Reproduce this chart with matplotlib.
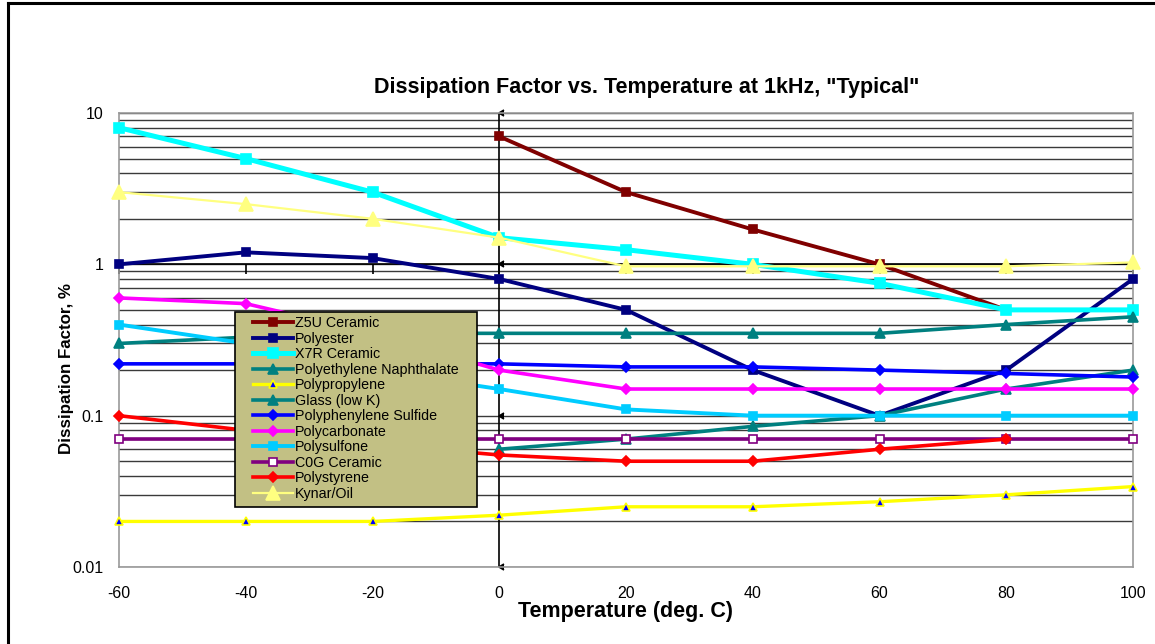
import matplotlib
matplotlib.use("Agg")
import matplotlib.pyplot as plt
import numpy as np
from matplotlib.lines import Line2D
from matplotlib.patches import Rectangle

plt.rcParams['font.family'] = ['Liberation Sans', 'DejaVu Sans']

temps = [-60, -40, -20, 0, 20, 40, 60, 80, 100]
nan = np.nan

z5u = [nan, nan, nan, 7.0, 3.0, 1.7, 1.0, 0.5, nan]
polyester = [1.0, 1.2, 1.1, 0.8, 0.5, 0.2, 0.1, 0.2, 0.8]
x7r = [8.0, 5.0, 3.0, 1.5, 1.25, 1.0, 0.75, 0.5, 0.5]
pen = [0.3, 0.33, 0.35, 0.35, 0.35, 0.35, 0.35, 0.4, 0.45]
polypropylene = [0.02, 0.02, 0.02, 0.022, 0.025, 0.025, 0.027, 0.03, 0.034]
glass = [nan, nan, nan, 0.06, 0.07, 0.085, 0.1, 0.15, 0.2]
pps = [0.22, 0.22, 0.22, 0.22, 0.21, 0.21, 0.2, 0.19, 0.18]
polycarbonate = [0.6, 0.55, 0.35, 0.2, 0.15, 0.15, 0.15, 0.15, 0.15]
polysulfone = [0.4, 0.3, 0.2, 0.15, 0.11, 0.1, 0.1, 0.1, 0.1]
c0g = [0.07, 0.07, 0.07, 0.07, 0.07, 0.07, 0.07, 0.07, 0.07]
polystyrene = [0.1, 0.08, 0.065, 0.055, 0.05, 0.05, 0.06, 0.07, nan]
kynar = [3.0, 2.5, 2.0, 1.5, 0.97, 0.97, 0.97, 0.97, 1.03]

series_names = ["Z5U Ceramic", "Polyester", "X7R Ceramic", "Polyethylene Naphthalate",
                "Polypropylene", "Glass (low K)", "Polyphenylene Sulfide", "Polycarbonate",
                "Polysulfone", "C0G Ceramic", "Polystyrene", "Kynar/Oil"]
series_values = [z5u, polyester, x7r, pen, polypropylene, glass, pps, polycarbonate,
                 polysulfone, c0g, polystyrene, kynar]

x_tick_labels = ["-60", "-40", "-20", "0", "20", "40", "60", "80", "100"]
y_ticks = [0.01, 0.1, 1, 10]
y_tick_labels = ["0.01", "0.1", "1", "10"]

styles = [
    dict(color='#800000', lw=2.8, marker='s', ms=6, mfc='#800000', mec='#800000'),
    dict(color='#000080', lw=2.8, marker='s', ms=6, mfc='#000080', mec='#000080'),
    dict(color='#00FFFF', lw=3.6, marker='s', ms=7, mfc='#00FFFF', mec='#00FFFF'),
    dict(color='#008080', lw=2.6, marker='^', ms=7, mfc='#008080', mec='#008080'),
    dict(color='#FFFF00', lw=2.4, marker='^', ms=6, mfc='#0000FF', mec='#FFFF00'),
    dict(color='#008080', lw=2.6, marker='^', ms=7, mfc='#008080', mec='#008080'),
    dict(color='#0000FF', lw=2.6, marker='D', ms=5, mfc='#0000FF', mec='#0000FF'),
    dict(color='#FF00FF', lw=2.6, marker='D', ms=5, mfc='#FF00FF', mec='#FF00FF'),
    dict(color='#00CCFF', lw=2.8, marker='s', ms=6, mfc='#00CCFF', mec='#00CCFF'),
    dict(color='#800080', lw=2.6, marker='s', ms=6, mfc='white', mec='#800080'),
    dict(color='#FF0000', lw=2.6, marker='D', ms=5, mfc='#FF0000', mec='#FF0000'),
    dict(color='#FFFF80', lw=1.6, marker='^', ms=10, mfc='#FFFF80', mec='#FFFF80'),
]

W, H = 1155, 644
fig = plt.figure(figsize=(W / 100, H / 100), dpi=100)
ax = fig.add_axes([119 / W, 1 - 567 / H, (1133 - 119) / W, (567 - 113) / H])

ax.set_yscale('log')
ax.set_xlim(-60, 100)
ax.set_ylim(0.01, 10)

ax.set_yticks(y_ticks)
ax.set_yticklabels(y_tick_labels)
ax.yaxis.set_minor_locator(matplotlib.ticker.LogLocator(base=10, subs=np.arange(2, 10)))
ax.yaxis.set_minor_formatter(matplotlib.ticker.NullFormatter())
ax.grid(True, which='both', axis='y', color='#3a3a3a', lw=1.0)
ax.set_axisbelow(True)
ax.set_xticks(temps)
ax.set_xticklabels(x_tick_labels)
ax.tick_params(axis='both', which='both', length=0, labelsize=11.5, colors='black')
ax.tick_params(axis='x', pad=14)
ax.tick_params(axis='y', pad=11)

for s in ax.spines.values():
    s.set_color('#999999')
    s.set_linewidth(1.2)

ax.axvline(0, color='black', lw=1.2, zorder=1.5)
ax.axhline(1, color='black', lw=1.2, zorder=1.5)
ax.plot(temps, [1] * len(temps), linestyle='none', marker=3, ms=7, mew=1.2,
        color='black', zorder=1.5, clip_on=False)
ax.plot([0] * len(y_ticks), y_ticks, linestyle='none', marker=4, ms=5, mew=1.2,
        color='black', zorder=1.5, clip_on=False)

handles = []
for i, (name, vals, st) in enumerate(zip(series_names, series_values, styles)):
    h, = ax.plot(temps, vals, label=name, color=st['color'], lw=st['lw'],
                 marker=st['marker'], ms=st['ms'], mfc=st['mfc'], mec=st['mec'],
                 mew=1.2, zorder=3 + i, clip_on=False)
    handles.append(h)

box = Rectangle((235 / W, 1 - 507 / H), (477 - 235) / W, (507 - 312) / H,
                transform=fig.transFigure, facecolor='#C2C084', edgecolor='black',
                lw=1.2, zorder=40)
fig.add_artist(box)
leg = fig.legend(handles=handles, loc='upper left',
                 bbox_to_anchor=(253 / W, 1 - 316 / H), fontsize=10.25,
                 frameon=False, numpoints=1, handlelength=2.8,
                 handletextpad=0.14, labelspacing=0.107, borderpad=0,
                 borderaxespad=0)
leg.set_zorder(50)

fig.text(647 / W, 1 - 88 / H, 'Dissipation Factor vs. Temperature at 1kHz, "Typical"',
         ha='center', va='center', fontsize=15.5, fontweight='bold')
fig.text(626 / W, 1 - 611 / H, 'Temperature (deg. C)', ha='center', va='center',
         fontsize=15.5, fontweight='bold')
fig.text(66 / W, 1 - 368 / H, 'Dissipation Factor, %', ha='center', va='center',
         rotation=90, fontsize=12.2, fontweight='bold')

fig.add_artist(Line2D([7.5 / W, 7.5 / W], [0, 1 - 3 / H], transform=fig.transFigure,
                      color='black', lw=2.2))
fig.add_artist(Line2D([7.5 / W, 1], [1 - 3 / H, 1 - 3 / H], transform=fig.transFigure,
                      color='black', lw=2.2))

fig.savefig('out.png', dpi=100)
